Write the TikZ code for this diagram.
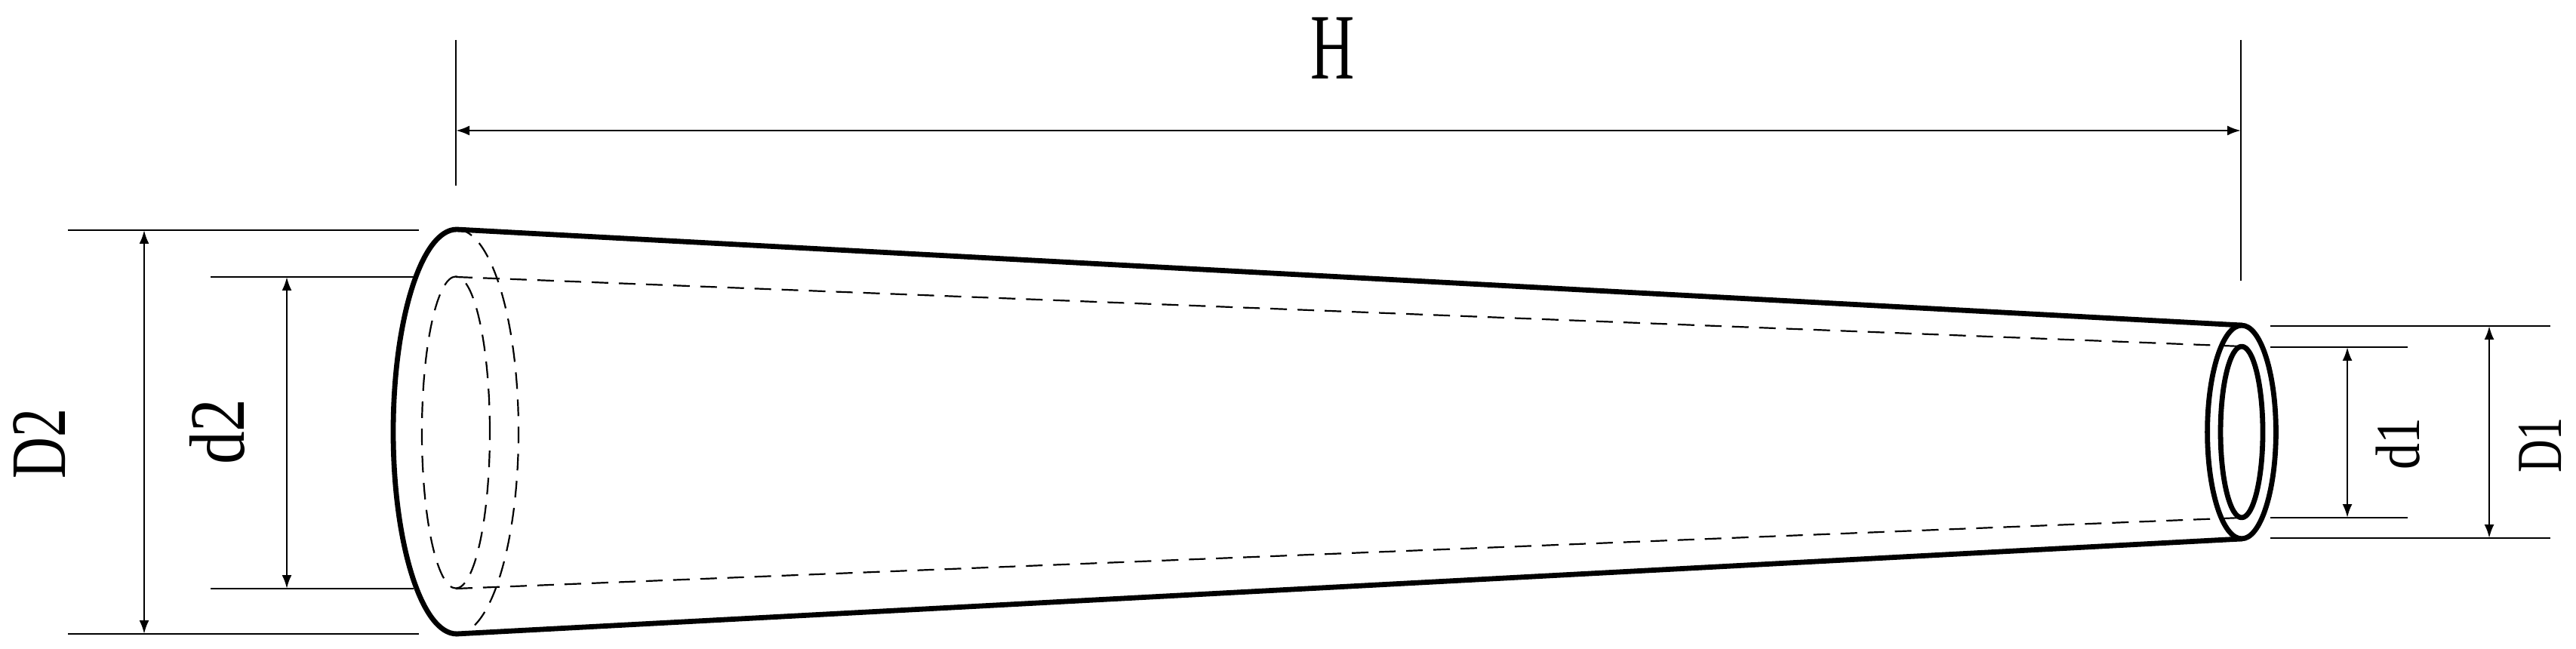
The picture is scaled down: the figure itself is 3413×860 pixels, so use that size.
\documentclass[tikz,border=0pt]{standalone}
\usepackage{fontspec}
\setmainfont{Liberation Serif}
\usetikzlibrary{arrows.meta}
\tikzset{
  x=0.5pt,y=-0.5pt,
  thick body/.style={line width=3.4pt,line join=round,line cap=round},
  thin line/.style={line width=1.3pt},
  hidden/.style={line width=1.1pt,dash pattern=on 11pt off 7pt},
  dim/.style={line width=1.3pt,{Latex[length=9pt,width=6.5pt]}-{Latex[length=9pt,width=6.5pt]}},
  label/.style={inner sep=0pt,outer sep=0pt,text=black}
}
\begin{document}
\begin{tikzpicture}
\useasboundingbox (0,0) rectangle (3413,860);
% key points of the cone
\coordinate (OT) at (605,304);
\coordinate (OB) at (605,840);
\coordinate (IT) at (604,367);
\coordinate (IB) at (604,780);
\coordinate (oT) at (2970,431);
\coordinate (oB) at (2970,714);
\coordinate (iT) at (2970,459);
\coordinate (iB) at (2970,686);
% hidden edges
\draw[hidden] (IT) -- (iT);
\draw[hidden] (IB) -- (iB);
\draw[hidden] (604,573) ellipse[x radius=22.5pt,y radius=103.3pt];
\draw[hidden] (OT) arc[start angle=90,end angle=-90,x radius=41pt,y radius=134pt];
% visible edges
\draw[thick body] (OB) arc[start angle=270,end angle=90,x radius=42pt,y radius=134pt] -- (oT);
\draw[thick body] (OB) -- (oB);
\draw[thick body] (2970,572.5) ellipse[x radius=22.7pt,y radius=70.7pt];
\draw[thick body] (2970,572.5) ellipse[x radius=14pt,y radius=56.7pt];
% extension lines
\coordinate (D2a) at (90,305);  \coordinate (D2b) at (555,305);
\coordinate (D2c) at (90,840);  \coordinate (D2d) at (555,840);
\coordinate (d2a) at (279,367); \coordinate (d2b) at (548,367);
\coordinate (d2c) at (279,780); \coordinate (d2d) at (548,780);
\coordinate (D1a) at (3008,432); \coordinate (D1b) at (3379,432);
\coordinate (D1c) at (3008,713); \coordinate (D1d) at (3379,713);
\coordinate (d1a) at (3008,460); \coordinate (d1b) at (3190,460);
\coordinate (d1c) at (3008,686); \coordinate (d1d) at (3190,686);
\coordinate (Ha) at (604,53);  \coordinate (Hb) at (604,246);
\coordinate (Hc) at (2969,53); \coordinate (Hd) at (2969,372);
\foreach \p/\q in {D2a/D2b,D2c/D2d,d2a/d2b,d2c/d2d,D1a/D1b,D1c/D1d,d1a/d1b,d1c/d1d,Ha/Hb,Hc/Hd}
  \draw[thin line] (\p) -- (\q);
% dimension arrows
\coordinate (D2t) at (191,305);  \coordinate (D2u) at (191,840);
\coordinate (d2t) at (380,367);  \coordinate (d2u) at (380,780);
\coordinate (D1t) at (3298,432); \coordinate (D1u) at (3298,713);
\coordinate (d1t) at (3110,460); \coordinate (d1u) at (3110,686);
\coordinate (Ht) at (604,173);   \coordinate (Hu) at (2969,173);
\draw[dim] (D2t) -- (D2u);
\draw[dim] (d2t) -- (d2u);
\draw[dim] (D1t) -- (D1u);
\draw[dim] (d1t) -- (d1u);
\draw[dim] (Ht) -- (Hu);
% labels
\node[label,xscale=.65] (H) at (1766,64) {\fontsize{62pt}{70pt}\selectfont H};
\node[label,rotate=90,xscale=.73] (D2) at (52,588) {\fontsize{52pt}{60pt}\selectfont D2};
\node[label,rotate=90,xscale=.84] (d2) at (288,572) {\fontsize{52pt}{60pt}\selectfont d2};
\node[label,rotate=90,xscale=.84] (d1) at (3177,588) {\fontsize{41.5pt}{50pt}\selectfont d1};
\node[label,rotate=90,xscale=.71] (D1) at (3365,590) {\fontsize{42.5pt}{50pt}\selectfont D1};
\end{tikzpicture}
\end{document}
